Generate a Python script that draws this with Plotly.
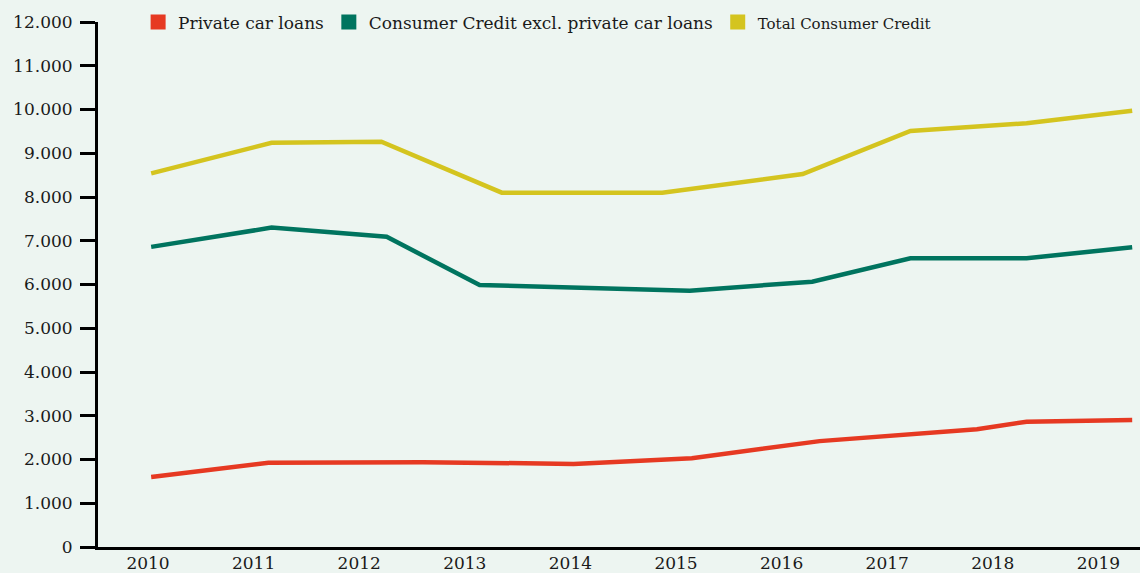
import plotly.graph_objects as go

# ---- data ----
years_ticks = [2010, 2011, 2012, 2013, 2014, 2015, 2016, 2017, 2018, 2019]

total_x = [2010.03, 2011.17, 2012.21, 2013.35, 2014.87, 2016.20, 2017.22, 2018.32, 2019.32]
total_y = [8540, 9240, 9265, 8100, 8100, 8525, 9510, 9685, 9970]

excl_x = [2010.03, 2011.17, 2012.26, 2013.14, 2015.13, 2016.29, 2017.22, 2018.32, 2019.32]
excl_y = [6860, 7300, 7090, 5990, 5860, 6065, 6600, 6600, 6850]

car_x = [2010.03, 2011.14, 2012.60, 2014.03, 2015.15, 2016.36, 2017.85, 2018.32, 2019.32]
car_y = [1600, 1925, 1940, 1900, 2030, 2420, 2690, 2865, 2905]

names = ["Private car loans", "Consumer Credit excl. private car loans", "Total Consumer Credit"]
colors = ["#e63922", "#00745f", "#d4c41f"]

BG = "#edf5f1"
FONT = "DejaVu Serif"

fig = go.Figure()

series = [(car_x, car_y), (excl_x, excl_y), (total_x, total_y)]
for (xs, ys), c in zip(series, colors):
    fig.add_trace(go.Scatter(x=xs, y=ys, mode="lines", line=dict(color=c, width=4.5),
                             showlegend=False, hoverinfo="x+y"))

# legend entries as square swatches
legend_labels = [names[0], names[1],
                 "<span style='font-size:15px'>" + names[2] + "</span>"]
for lab, c in zip(legend_labels, colors):
    fig.add_trace(go.Scatter(x=[None], y=[None], mode="markers", name=lab,
                             marker=dict(symbol="square", size=15, color=c)))

fig.update_layout(
    width=1140, height=573,
    paper_bgcolor=BG, plot_bgcolor=BG,
    margin=dict(l=98, r=0, t=22, b=26, autoexpand=False),
    font=dict(family=FONT, size=17, color="#1a1a1a"),
    separators=",.",
    showlegend=True,
    legend=dict(orientation="h", xref="paper", yref="paper",
                x=0.0385, xanchor="left", y=0.999, yanchor="middle",
                bgcolor="rgba(0,0,0,0)", font=dict(family=FONT, size=17, color="#1a1a1a"),
                itemclick=False, itemdoubleclick=False, tracegroupgap=0),
)

x0 = 2010 - 50 / 105.6
fig.update_xaxes(
    type="linear",
    range=[x0, x0 + 1042 / 105.6],
    tickmode="array", tickvals=years_ticks, ticktext=[str(y) for y in years_ticks],
    showgrid=False, zeroline=False, showline=True, linecolor="#000000", linewidth=3,
    ticks="", tickfont=dict(family=FONT, size=17, color="#1a1a1a"), ticklabelstandoff=-1,
)
fig.update_yaxes(
    range=[0, 12000], tickmode="linear", tick0=0, dtick=1000, tickformat=",d",
    showgrid=False, zeroline=False, showline=True, linecolor="#000000", linewidth=3,
    ticks="outside", ticklen=15, tickwidth=3, tickcolor="#000000",
    tickfont=dict(family=FONT, size=17, color="#1a1a1a"), ticklabelstandoff=4,
)

fig.write_html("out.html")
